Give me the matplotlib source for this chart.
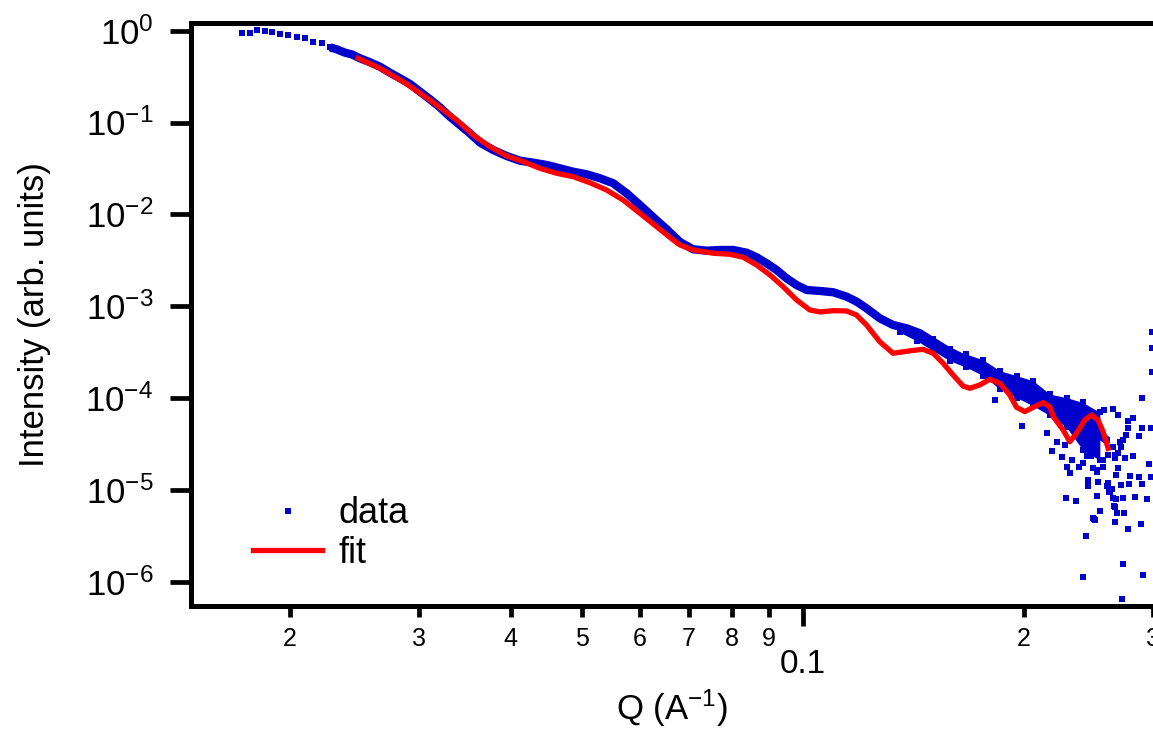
import matplotlib
matplotlib.use("Agg")
import matplotlib.pyplot as plt
from matplotlib.ticker import FixedLocator, FixedFormatter, NullLocator

plt.rcParams['font.family'] = ['Liberation Sans', 'DejaVu Sans']
plt.rcParams['mathtext.fontset'] = 'custom'
plt.rcParams['mathtext.rm'] = 'Liberation Sans'
plt.rcParams['mathtext.it'] = 'Liberation Sans:italic'
plt.rcParams['mathtext.bf'] = 'Liberation Sans:bold'

# measured curve (dense part of the data), Q in 1/A
q_band = [0.01719, 0.01764, 0.01802, 0.01849, 0.01889, 0.01939, 0.01990, 0.02043, 0.02097, 0.02152,
          0.02210, 0.02268, 0.02316, 0.02377, 0.02427, 0.02491, 0.02571, 0.02653, 0.02737, 0.02825,
          0.02915, 0.03008, 0.03103, 0.03201, 0.03304, 0.03409, 0.03517, 0.03630, 0.03785, 0.03947,
          0.04115, 0.04291, 0.04475, 0.04666, 0.04865, 0.05074, 0.05290, 0.05516, 0.05752, 0.05997,
          0.06253, 0.06521, 0.06799, 0.07088, 0.07394, 0.07707, 0.08035, 0.08381, 0.08648, 0.08923,
          0.09208, 0.09501, 0.09804, 0.1012, 0.1055, 0.1100, 0.1147, 0.1184, 0.1221, 0.1273,
          0.1327, 0.1385, 0.1443, 0.1505, 0.1570, 0.1637, 0.1706, 0.1780, 0.1855, 0.1934,
          0.2017, 0.2103, 0.2193, 0.2287, 0.2385, 0.2486, 0.2593]
i_band = [0.951, 0.937, 1.018, 1.000, 0.975, 0.921, 0.898, 0.860, 0.826, 0.759,
          0.729, 0.659, 0.627, 0.576, 0.553, 0.5005, 0.453, 0.4055, 0.3488, 0.3031,
          0.2628, 0.2167, 0.1791, 0.1465, 0.1157, 0.0940, 0.0763, 0.0606, 0.0502, 0.0432,
          0.0384, 0.0365, 0.0345, 0.0317, 0.0291, 0.0273, 0.0247, 0.0218, 0.01696, 0.01264,
          0.00929, 0.00688, 0.00500, 0.00416, 0.00402, 0.00409, 0.00409, 0.00382, 0.00341, 0.00293,
          0.00248, 0.00201, 0.00170, 0.00150, 0.001463, 0.001417, 0.001269, 0.001119, 0.000948, 0.000738,
          0.000624, 0.000574, 0.000507, 0.000411, 0.000333, 0.000282, 0.000239, 0.000202, 0.0001707, 0.0001446,
          0.0001193, 0.0001013, 0.0000839, 0.0000710, 0.0000552, 0.0000448, 0.0000349]

# spread of the noisy high-Q data (upper / lower edge of the cloud)
q_env = [0.1356, 0.1429, 0.1505, 0.1586, 0.1671, 0.1761, 0.1855, 0.1955, 0.2060, 0.2170, 0.2287, 0.2410, 0.2539]
i_env_hi = [6.12e-4, 5.17e-4, 4.37e-4, 3.40e-4, 3.00e-4, 2.60e-4, 1.98e-4, 1.75e-4, 1.54e-4, 1.10e-4, 1.01e-4, 8.9e-5, 6.96e-5]
i_env_lo = [5.17e-4, 4.20e-4, 3.27e-4, 2.54e-4, 2.15e-4, 1.75e-4, 1.25e-4, 1.01e-4, 8.2e-5, 6.45e-5, 4.78e-5, 2.68e-5, 2.1e-5]

# scattered points at high Q
q_scatter = [0.1826, 0.1988, 0.2150, 0.2184, 0.2219, 0.2254, 0.2275, 0.2289, 0.2311, 0.2325,
             0.2282, 0.2355, 0.2377, 0.2407, 0.2430, 0.2407, 0.2437, 0.2445, 0.2445, 0.2484,
             0.2499, 0.2539, 0.2515, 0.2523, 0.2515, 0.2563, 0.2603, 0.2620, 0.2645, 0.2661,
             0.2678, 0.2661, 0.2712, 0.2729, 0.2737, 0.2729, 0.2720, 0.2772, 0.2789, 0.2781,
             0.2816, 0.2833, 0.2869, 0.2896, 0.2887, 0.2905, 0.2942, 0.2961, 0.2979, 0.2896,
             0.2896, 0.2869, 0.2816, 0.2772, 0.2772, 0.2755, 0.2645, 0.2686, 0.2571, 0.2703,
             0.2712, 0.2686, 0.2661, 0.2746, 0.2686, 0.2670, 0.2989, 0.2989, 0.2989, 0.2979,
             0.2407, 0.2468, 0.2484, 0.2515, 0.2563, 0.2661, 0.2645, 0.2603, 0.2729, 0.2637,
             0.2612, 0.2595, 0.2670, 0.2653, 0.2492]
i_scatter = [9.52e-5, 4.96e-5, 4.16e-5, 2.65e-5, 3.32e-5, 2.28e-5, 3.08e-5, 1.77e-5, 1.53e-5, 2.11e-5,
             8.15e-6, 7.56e-6, 1.77e-5, 1.96e-5, 3.15e-6, 1.12e-6, 2.34e-5, 1.28e-5, 1.10e-5, 4.94e-6,
             4.69e-6, 5.88e-6, 8.57e-6, 1.22e-5, 1.64e-5, 2.11e-5, 1.19e-5, 9.48e-6, 8.15e-6, 6.50e-6,
             5.60e-6, 4.47e-6, 1.13e-5, 8.15e-6, 5.60e-6, 1.56e-6, 6.48e-7, 3.75e-6, 1.42e-5, 1.16e-5,
             2.34e-5, 8.36e-6, 1.38e-5, 1.16e-5, 4.25e-6, 1.18e-6, 7.95e-6, 1.91e-5, 1.38e-5, 1.00e-4,
             4.72e-5, 3.86e-5, 6.06e-5, 5.62e-5, 4.72e-5, 3.96e-5, 7.59e-5, 6.53e-5, 7.41e-5, 3.32e-5,
             2.93e-5, 2.52e-5, 2.22e-5, 2.22e-5, 1.73e-5, 1.45e-5, 1.92e-4, 3.505e-4, 5.24e-4, 4.72e-5,
             9.05e-5, 2.34e-5, 1.73e-5, 1.56e-5, 1.77e-5, 2.40e-5, 2.93e-5, 2.40e-5, 3.49e-5, 1.02e-5,
             9.48e-6, 1.10e-5, 7.95e-6, 6.67e-6, 4.8e-6]

# model fit
q_fit = [0.02478, 0.02653, 0.02854, 0.03103, 0.03374, 0.03555, 0.03746, 0.03948, 0.04159, 0.04382,
         0.04618, 0.04865, 0.05126, 0.05402, 0.05691, 0.05997, 0.06319, 0.06657, 0.06799, 0.07088,
         0.07547, 0.07953, 0.08292, 0.08648, 0.09017, 0.09401, 0.09804, 0.1022, 0.1055, 0.1100,
         0.1147, 0.1183, 0.1221, 0.1273, 0.1327, 0.1406, 0.1458, 0.1505, 0.1553, 0.1602,
         0.1653, 0.1689, 0.1742, 0.1798, 0.1855, 0.1914, 0.1955, 0.2007, 0.2060, 0.2125,
         0.2170, 0.2194, 0.2263, 0.2311, 0.2360, 0.2422, 0.2474, 0.2525, 0.2565, 0.2606]
i_fit = [0.5006, 0.3895, 0.2784, 0.1759, 0.1065, 0.0731, 0.0545, 0.0432, 0.0375, 0.0317,
         0.0280, 0.0257, 0.0221, 0.0184, 0.0143, 0.01027, 0.00734, 0.00526, 0.00464, 0.00409,
         0.00377, 0.00367, 0.00341, 0.00281, 0.00219, 0.00163, 0.00117, 0.000909, 0.000865, 0.000893,
         0.000886, 0.000802, 0.000624, 0.000410, 0.000307, 0.000328, 0.000339, 0.000307, 0.000239, 0.000178,
         0.000135, 0.0001276, 0.0001386, 0.0001599, 0.0001446, 0.0001079, 7.92e-5, 7.10e-5, 7.92e-5, 8.89e-5,
         8.04e-5, 6.26e-5, 4.48e-5, 3.34e-5, 4.13e-5, 5.76e-5, 6.53e-5, 5.76e-5, 4.30e-5, 2.83e-5]

x_minor_ticks = [0.02, 0.03, 0.04, 0.05, 0.06, 0.07, 0.08, 0.09, 0.2, 0.3]
x_minor_labels = ['2', '3', '4', '5', '6', '7', '8', '9', '2', '3']
y_ticks = [1e0, 1e-1, 1e-2, 1e-3, 1e-4, 1e-5, 1e-6]
y_labels = [r'$10^{0}$', r'$10^{-1}$', r'$10^{-2}$', r'$10^{-3}$', r'$10^{-4}$', r'$10^{-5}$', r'$10^{-6}$']

blue = '#0000cc'
red = '#ff0000'

fig = plt.figure(figsize=(11.53, 7.34), dpi=100)
ax = fig.add_axes([0.1654, 0.1748, 0.8346, 0.7943])

# data: sparse squares at low Q, dense band afterwards
ax.plot(q_band[11:], i_band[11:], '-', color=blue, lw=6.0, solid_capstyle='butt', zorder=2)
ax.plot(q_band, i_band, 's', color=blue, ms=4.4, mew=0, zorder=2)
ax.fill_between(q_env, i_env_lo, i_env_hi, color=blue, lw=0, zorder=2)
ax.plot(q_env, i_env_hi, 's', color=blue, ms=3.8, mew=0, zorder=2)
ax.plot(q_env, i_env_lo, 's', color=blue, ms=3.8, mew=0, zorder=2)
h_data, = ax.plot(q_scatter, i_scatter, 's', color=blue, ms=3.8, mew=0, zorder=2)

h_fit, = ax.plot(q_fit, i_fit, '-', color=red, lw=3.8, solid_joinstyle='round', zorder=3)

ax.set_xscale('log')
ax.set_yscale('log')
ax.set_xlim(0.01465, 0.30)
ax.set_ylim(5.47e-7, 1.222)

for s in ['left', 'top', 'bottom']:
    ax.spines[s].set_linewidth(3.6)
ax.spines['right'].set_visible(False)

ax.xaxis.set_major_locator(FixedLocator([0.1]))
ax.xaxis.set_major_formatter(FixedFormatter(['0.1']))
ax.xaxis.set_minor_locator(FixedLocator(x_minor_ticks))
ax.xaxis.set_minor_formatter(FixedFormatter(x_minor_labels))
ax.yaxis.set_major_locator(FixedLocator(y_ticks))
ax.yaxis.set_major_formatter(FixedFormatter(y_labels))
ax.yaxis.set_minor_locator(NullLocator())

ax.tick_params(axis='y', which='major', direction='out', length=15, width=3.4,
               labelsize=25, pad=12, right=False)
ax.tick_params(axis='x', which='major', direction='out', length=14.5, width=3.4,
               labelsize=24, pad=17, top=False)
ax.tick_params(axis='x', which='minor', direction='out', length=8, width=3.4,
               labelsize=18, pad=7, top=False)

ax.set_ylabel('Intensity (arb. units)', fontsize=25)
ax.yaxis.set_label_coords(-0.1450, 0.5)
ax.set_xlabel('Q (A$^{-1}$)', fontsize=25)
ax.xaxis.set_label_coords(0.5, -0.1395)

ax.legend([h_data, h_fit], ['data', 'fit'], loc='lower left', bbox_to_anchor=(0.0647, 0.06),
          frameon=False, fontsize=26, handlelength=1.92, handletextpad=0.44,
          labelspacing=0.12, borderpad=0, borderaxespad=0, numpoints=1)

fig.savefig('out.png', dpi=100)
